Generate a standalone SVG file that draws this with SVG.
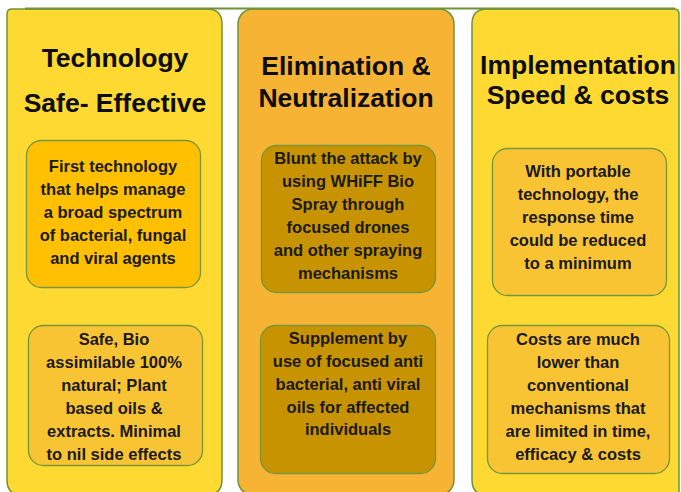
<svg xmlns="http://www.w3.org/2000/svg" width="681" height="492" viewBox="0 0 681 492">
<style>
.col{stroke:#6f9339;stroke-width:1.5}
.box{stroke:#77963d;stroke-width:1.3}
.title{font-family:"Liberation Sans",Arial,sans-serif;font-weight:bold;font-size:26.5px;fill:#0d0d0d;text-anchor:middle}
.body{font-family:"Liberation Sans",Arial,sans-serif;font-weight:bold;font-size:16.5px;fill:#1a1a1a;text-anchor:middle}
</style>
<rect width="681" height="492" fill="#ffffff"/>
<g id="col-technology">
<path class="col" fill="#fed932" d="M7,14 Q7,9 12,9 L207,9 Q222,9 222,24 L222,479 Q222,495 207,495 L22,495 Q7,495 7,480 Z"/>
<text class="title" x="115" y="67">Technology</text>
<text class="title" x="115" y="112">Safe- Effective</text>
<g id="box-first-technology">
<rect class="box" x="26.5" y="140.5" width="174" height="147" rx="15" fill="#fec000"/>
<text class="body" x="113" y="172">First technology</text>
<text class="body" x="113" y="195">that helps manage</text>
<text class="body" x="113" y="218">a broad spectrum</text>
<text class="body" x="113" y="241">of bacterial, fungal</text>
<text class="body" x="113" y="264">and viral agents</text>
</g>
<g id="box-safe-bio">
<rect class="box" x="28.5" y="325.5" width="174" height="140" rx="15" fill="#f9c433"/>
<text class="body" x="114" y="345">Safe, Bio</text>
<text class="body" x="114" y="368">assimilable 100%</text>
<text class="body" x="114" y="391">natural; Plant</text>
<text class="body" x="114" y="414">based oils &amp;</text>
<text class="body" x="114" y="437">extracts. Minimal</text>
<text class="body" x="114" y="460">to nil side effects</text>
</g>
</g>
<g id="col-elimination">
<rect class="col" x="238" y="9" width="216" height="486" rx="15" fill="#f6b334"/>
<text class="title" x="346" y="75">Elimination &amp;</text>
<text class="title" x="346" y="107">Neutralization</text>
<g id="box-blunt-attack">
<rect class="box" x="261.5" y="145.5" width="174" height="147" rx="15" fill="#c79300"/>
<text class="body" x="348" y="164">Blunt the attack by</text>
<text class="body" x="348" y="187">using WHiFF Bio</text>
<text class="body" x="348" y="210">Spray through</text>
<text class="body" x="348" y="233">focused drones</text>
<text class="body" x="348" y="256">and other spraying</text>
<text class="body" x="348" y="279">mechanisms</text>
</g>
<g id="box-supplement">
<rect class="box" x="260.5" y="325.5" width="175" height="148" rx="15" fill="#c79300"/>
<text class="body" x="348" y="344">Supplement by</text>
<text class="body" x="348" y="367">use of focused anti</text>
<text class="body" x="348" y="390">bacterial, anti viral</text>
<text class="body" x="348" y="413">oils for affected</text>
<text class="body" x="348" y="435">individuals</text>
</g>
</g>
<g id="col-implementation">
<path class="col" fill="#fed932" d="M487,9 L674,9 Q679,9 679,14 L679,495 L487,495 Q472,495 472,480 L472,24 Q472,9 487,9 Z"/>
<text class="title" x="578" y="74">Implementation</text>
<text class="title" x="578" y="104">Speed &amp; costs</text>
<g id="box-portable">
<rect class="box" x="492.5" y="148.5" width="174" height="147" rx="15" fill="#f9c433"/>
<text class="body" x="578" y="177">With portable</text>
<text class="body" x="578" y="200">technology, the</text>
<text class="body" x="578" y="223">response time</text>
<text class="body" x="578" y="246">could be reduced</text>
<text class="body" x="578" y="269">to a minimum</text>
</g>
<g id="box-costs">
<rect class="box" x="487.5" y="325.5" width="182" height="148" rx="15" fill="#f9c433"/>
<text class="body" x="578" y="345">Costs are much</text>
<text class="body" x="578" y="368">lower than</text>
<text class="body" x="578" y="391">conventional</text>
<text class="body" x="578" y="414">mechanisms that</text>
<text class="body" x="578" y="437">are limited in time,</text>
<text class="body" x="578" y="460">efficacy &amp; costs</text>
</g>
</g>
<g id="connectors">
<line x1="25" y1="8.5" x2="675" y2="8.5" stroke="#6f9339" stroke-width="2"/>
</g>
</svg>
